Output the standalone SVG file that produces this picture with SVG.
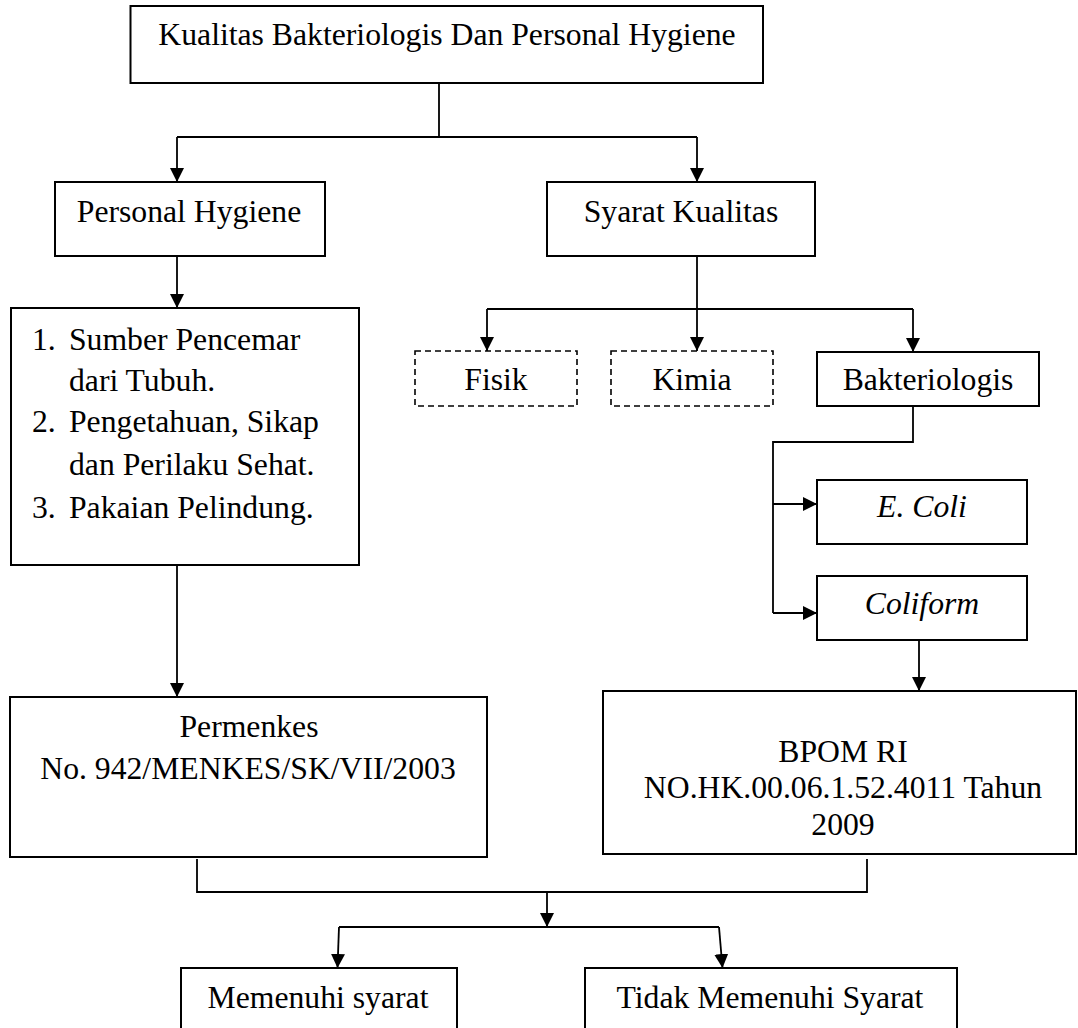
<svg xmlns="http://www.w3.org/2000/svg" width="1078" height="1028" viewBox="0 0 1078 1028">
<style>
.box{fill:#fff;stroke:#000;stroke-width:2}
.dash{fill:#fff;stroke:#000;stroke-width:1.6;stroke-dasharray:6 4}
.t{font-family:"Liberation Serif","Times New Roman",serif;font-size:31.7px;fill:#000}
.c{text-anchor:middle}
.i{font-style:italic}
.ln{fill:none;stroke:#000;stroke-width:1.8}
.ar{fill:none;stroke:#000;stroke-width:1.8;marker-end:url(#ah)}
</style>
<defs>
<marker id="ah" markerUnits="userSpaceOnUse" markerWidth="14" markerHeight="14" refX="14" refY="7" orient="auto">
<path d="M0,0 L14,7 L0,14 z" fill="#000"/>
</marker>
</defs>
<rect width="1078" height="1028" fill="#fff"/>
<g id="connectors">
<path class="ln" d="M439,83 V137 M177,137 H697"/>
<path class="ar" d="M177,137 V182"/>
<path class="ar" d="M697,137 V182"/>
<path class="ar" d="M177,256 V308"/>
<path class="ln" d="M697,256 V309 M487,309 H913"/>
<path class="ar" d="M487,309 V351"/>
<path class="ar" d="M697,309 V351"/>
<path class="ar" d="M913,309 V352"/>
<path class="ln" d="M913,406 V442 H773 V613"/>
<path class="ar" d="M773,504 H817"/>
<path class="ar" d="M773,613 H817"/>
<path class="ar" d="M177,565 V697"/>
<path class="ar" d="M919,640 V691"/>
<path class="ln" d="M197,859 V892 H867 V859"/>
<path class="ar" d="M547,892 V927"/>
<path class="ln" d="M339,927 H719"/>
<path class="ar" d="M339,927 L337.5,968"/>
<path class="ar" d="M719,927 L722.5,968"/>
</g>
<g id="n-top"><rect class="box" x="130.5" y="6" width="632.5" height="77"/><text class="t c" x="447" y="45">Kualitas Bakteriologis Dan Personal Hygiene</text></g>
<g id="n-personal"><rect class="box" x="55" y="182" width="270" height="74"/><text class="t c" x="189" y="222">Personal Hygiene</text></g>
<g id="n-syarat"><rect class="box" x="547" y="182" width="268" height="74"/><text class="t c" x="681" y="222">Syarat Kualitas</text></g>
<g id="n-list"><rect class="box" x="11" y="308" width="348" height="257"/>
<text class="t" x="32" y="350">1.</text><text class="t" x="69" y="350">Sumber Pencemar</text>
<text class="t" x="69" y="391">dari Tubuh.</text>
<text class="t" x="32" y="432">2.</text><text class="t" x="69" y="432">Pengetahuan, Sikap</text>
<text class="t" x="69" y="475">dan Perilaku Sehat.</text>
<text class="t" x="32" y="518">3.</text><text class="t" x="69" y="518">Pakaian Pelindung.</text>
</g>
<g id="n-fisik"><rect class="dash" x="415" y="351" width="162" height="55"/><text class="t c" x="496" y="390">Fisik</text></g>
<g id="n-kimia"><rect class="dash" x="611" y="351" width="162" height="55"/><text class="t c" x="692" y="390">Kimia</text></g>
<g id="n-bakteri"><rect class="box" x="817" y="352" width="222" height="54"/><text class="t c" x="928" y="390">Bakteriologis</text></g>
<g id="n-ecoli"><rect class="box" x="817" y="480" width="210" height="64"/><text class="t c i" x="922" y="517">E. Coli</text></g>
<g id="n-coliform"><rect class="box" x="817" y="576" width="210" height="64"/><text class="t c i" x="922" y="614">Coliform</text></g>
<g id="n-permenkes"><rect class="box" x="10" y="697" width="477" height="160"/><text class="t c" x="249" y="737">Permenkes</text><text class="t c" x="248" y="779">No. 942/MENKES/SK/VII/2003</text></g>
<g id="n-bpom"><rect class="box" x="603" y="691" width="473" height="163"/><text class="t c" x="843" y="762">BPOM RI</text><text class="t c" x="843" y="798">NO.HK.00.06.1.52.4011 Tahun</text><text class="t c" x="843" y="835">2009</text></g>
<g id="n-memenuhi"><rect class="box" x="181" y="968" width="276" height="80"/><text class="t c" x="318" y="1008">Memenuhi syarat</text></g>
<g id="n-tidak"><rect class="box" x="585" y="968" width="372" height="80"/><text class="t c" x="770" y="1008">Tidak Memenuhi Syarat</text></g>
</svg>
